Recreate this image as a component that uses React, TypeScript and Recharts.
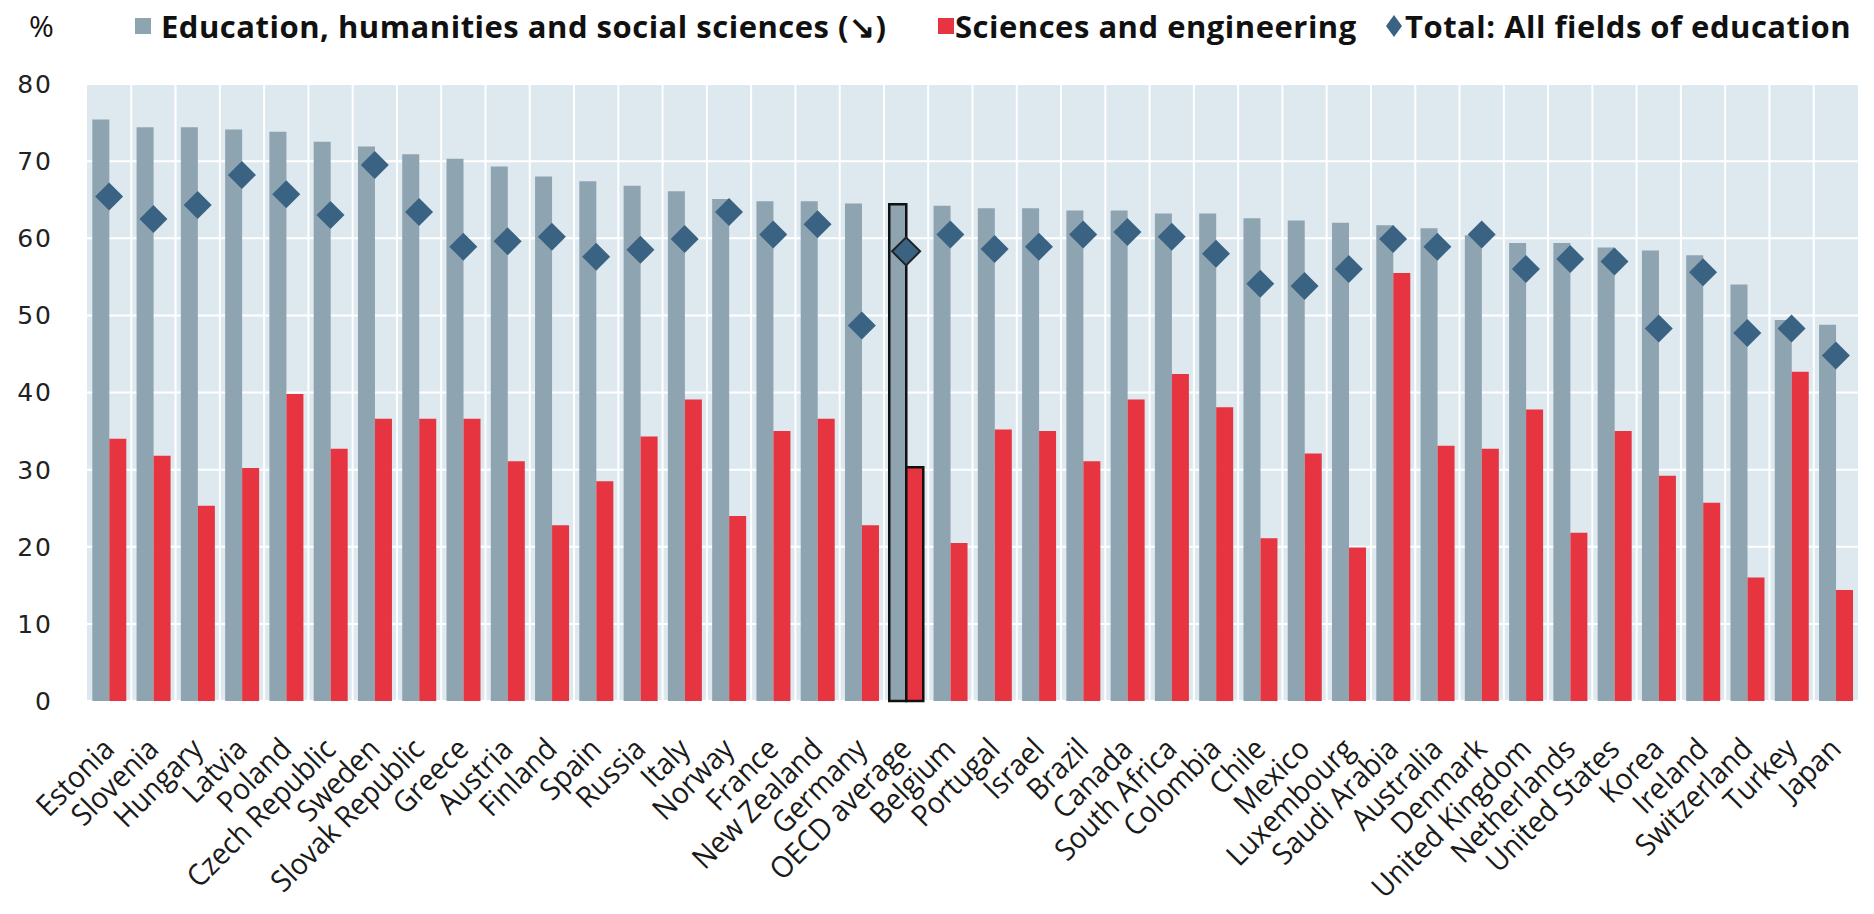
import React from "react";
import { Bar, Cell, CartesianGrid, ComposedChart, Scatter, XAxis, YAxis } from "recharts";

const countries = [
  "Estonia", "Slovenia", "Hungary", "Latvia", "Poland", "Czech Republic", "Sweden", "Slovak Republic",
  "Greece", "Austria", "Finland", "Spain", "Russia", "Italy", "Norway", "France", "New Zealand", "Germany",
  "OECD average", "Belgium", "Portugal", "Israel", "Brazil", "Canada", "South Africa", "Colombia", "Chile",
  "Mexico", "Luxembourg", "Saudi Arabia", "Australia", "Denmark", "United Kingdom", "Netherlands",
  "United States", "Korea", "Ireland", "Switzerland", "Turkey", "Japan",
];

const educationHumanities = [
  75.4, 74.4, 74.4, 74.1, 73.8, 72.5, 71.9, 70.9, 70.3, 69.3,
  68.0, 67.4, 66.8, 66.1, 65.1, 64.8, 64.8, 64.5, 64.4, 64.2,
  63.9, 63.9, 63.6, 63.6, 63.2, 63.2, 62.6, 62.3, 62.0, 61.7,
  61.3, 60.4, 59.4, 59.4, 58.8, 58.4, 57.8, 54.0, 49.4, 48.8,
];

const sciencesEngineering = [
  34.0, 31.8, 25.3, 30.2, 39.8, 32.7, 36.6, 36.6, 36.6, 31.1,
  22.8, 28.5, 34.3, 39.1, 24.0, 35.0, 36.6, 22.8, 30.3, 20.5,
  35.2, 35.0, 31.1, 39.1, 42.4, 38.1, 21.1, 32.1, 19.9, 55.5,
  33.1, 32.7, 37.8, 21.8, 35.0, 29.2, 25.7, 16.0, 42.7, 14.4,
];

const allFields = [
  65.4, 62.5, 64.3, 68.2, 65.7, 63.0, 69.5, 63.4, 58.9, 59.6,
  60.2, 57.6, 58.5, 59.9, 63.4, 60.5, 61.8, 48.7, 58.3, 60.5,
  58.6, 58.9, 60.5, 60.8, 60.2, 58.0, 54.1, 53.8, 56.0, 59.9,
  58.9, 60.5, 56.0, 57.3, 57.0, 48.3, 55.6, 47.7, 48.3, 44.8,
];

const yTicks = [0, 10, 20, 30, 40, 50, 60, 70, 80];

const HIGHLIGHT = "OECD average";
const GREY = "#8fa4b1";
const RED = "#e63540";
const NAVY = "#3a6282";

const rows = countries.map((name, i) => ({
  name,
  edu: educationHumanities[i],
  sci: sciencesEngineering[i],
  total: allFields[i],
}));

function CountryTick(props: any) {
  const { x, y, payload } = props;
  return (
    <g transform={`translate(${x + 7},${y + 50})`}>
      <text
        transform="rotate(-45) scale(0.93,1)"
        textAnchor="end"
        fontFamily="'Open Sans', sans-serif"
        fontSize={30}
        fill="#1a1a1a"
      >
        {payload.value}
      </text>
    </g>
  );
}

function Diamond(props: any) {
  const { cx, cy, payload } = props;
  if (cx == null || cy == null) return null;
  const hl = payload && payload.name === HIGHLIGHT;
  const r = 14;
  return (
    <path
      d={`M${cx},${cy - r} L${cx + r},${cy} L${cx},${cy + r} L${cx - r},${cy} Z`}
      fill={NAVY}
      stroke={hl ? "#222" : "none"}
      strokeWidth={2}
    />
  );
}

function Legend() {
  const text: React.CSSProperties = {
    position: "absolute",
    top: 5,
    fontFamily: "'Open Sans', sans-serif",
    fontWeight: 700,
    fontSize: 31,
    letterSpacing: 0.5,
    lineHeight: "42px",
    color: "#111",
    whiteSpace: "nowrap",
  };
  const swatch = (left: number, color: string): React.CSSProperties => ({
    position: "absolute",
    left,
    top: 18,
    width: 16,
    height: 16,
    background: color,
  });
  return (
    <div style={{ position: "absolute", left: 0, top: 0, width: 1874, height: 60 }}>
      <span style={{ ...text, left: 29, fontWeight: 400, fontSize: 30, letterSpacing: 0 }}>%</span>
      <div style={swatch(135, GREY)} />
      <span style={{ ...text, left: 161 }}>Education, humanities and social sciences (↘)</span>
      <div style={swatch(938, RED)} />
      <span style={{ ...text, left: 955 }}>Sciences and engineering</span>
      <svg style={{ position: "absolute", left: 1385, top: 15 }} width={18} height={22}>
        <path d="M9,0 L17,11 L9,22 L1,11 Z" fill={NAVY} />
      </svg>
      <span style={{ ...text, left: 1405 }}>Total: All fields of education</span>
    </div>
  );
}

export default function App() {
  return (
    <div style={{ position: "absolute", left: 0, top: 0, width: 1874, height: 914, background: "#fff" }}>
      <Legend />
      <ComposedChart
        width={1874}
        height={914}
        data={rows}
        margin={{ top: 84, right: 16, bottom: 0, left: 0 }}
        barCategoryGap="12%"
        barGap={0}
      >
        <CartesianGrid
          fill="#dde8ef"
          stroke="#ffffff"
          strokeWidth={2}
          verticalCoordinatesGenerator={({ offset }: any) => {
            const left = offset ? offset.left : 87;
            const width = offset ? offset.width : 1771;
            return countries.slice(1).map((_, i) => left + ((i + 1) * width) / countries.length);
          }}
        />
        <XAxis
          dataKey="name"
          height={213}
          interval={0}
          axisLine={false}
          tickLine={false}
          tickSize={0}
          tickMargin={0}
          tick={<CountryTick />}
        />
        <YAxis
          width={87}
          domain={[0, 80]}
          ticks={yTicks}
          axisLine={false}
          tickLine={false}
          tickSize={0}
          tickMargin={34}
          tick={{ fontFamily: "'DejaVu Sans', sans-serif", fontSize: 25, fill: "#222", letterSpacing: 2 }}
        />
        <Bar dataKey="edu" fill={GREY} isAnimationActive={false}>
          {rows.map((r) => (
            <Cell key={r.name} fill={GREY} stroke={r.name === HIGHLIGHT ? "#111" : "none"} strokeWidth={2.5} />
          ))}
        </Bar>
        <Bar dataKey="sci" fill={RED} isAnimationActive={false}>
          {rows.map((r) => (
            <Cell key={r.name} fill={RED} stroke={r.name === HIGHLIGHT ? "#111" : "none"} strokeWidth={2.5} />
          ))}
        </Bar>
        <Scatter dataKey="total" shape={Diamond} isAnimationActive={false} />
      </ComposedChart>
    </div>
  );
}
